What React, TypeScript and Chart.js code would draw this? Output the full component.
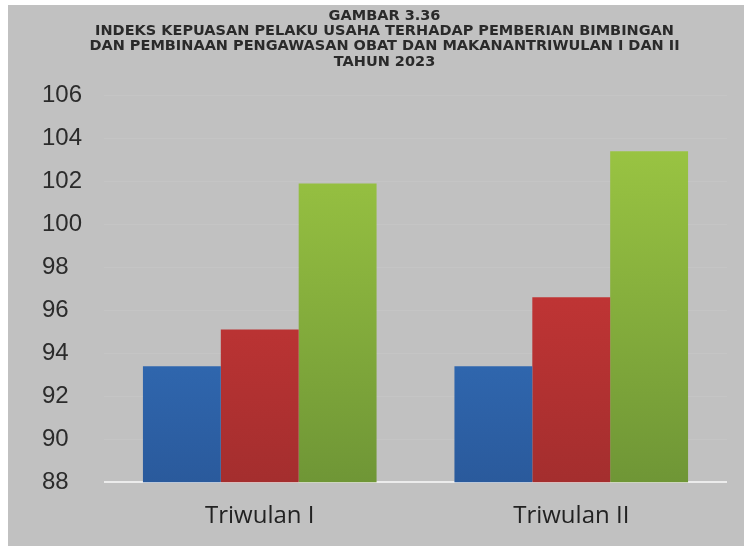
import React, { useEffect, useRef } from "react";
import { Chart, registerables } from "chart.js";

Chart.register(...registerables);

const titleLines = [
  "GAMBAR 3.36",
  "INDEKS KEPUASAN PELAKU USAHA TERHADAP PEMBERIAN BIMBINGAN",
  "DAN PEMBINAAN PENGAWASAN OBAT DAN MAKANANTRIWULAN I DAN II",
  "TAHUN 2023",
];
const categories = ["Triwulan I", "Triwulan II"];
const seriesBlue = [93.4, 93.4];
const seriesRed = [95.1, 96.6];
const seriesGreen = [101.9, 103.4];
const yMin = 88;
const yMax = 106;
const yStep = 2;

function makeGradient(top: string, bottom: string) {
  return (ctx: any) => {
    const chart = ctx.chart;
    const area = chart.chartArea;
    if (!area) return top;
    const g = chart.ctx.createLinearGradient(0, area.top, 0, area.bottom);
    g.addColorStop(0, top);
    g.addColorStop(1, bottom);
    return g;
  };
}

export default function App() {
  const ref = useRef<HTMLCanvasElement | null>(null);
  useEffect(() => {
    if (!ref.current) return;
    const chart = new Chart(ref.current, {
      type: "bar",
      data: {
        labels: categories,
        datasets: [
          { label: "A", data: seriesBlue, backgroundColor: makeGradient("#3b82d6", "#2a5a9c") },
          { label: "B", data: seriesRed, backgroundColor: makeGradient("#dc3b3b", "#a42e2e") },
          { label: "C", data: seriesGreen, backgroundColor: makeGradient("#a0cb44", "#6f9636") },
        ],
      },
      options: {
        animation: false,
        responsive: false,
        maintainAspectRatio: false,
        layout: { padding: { left: 34, right: 17, top: 4, bottom: 3 } },
        datasets: { bar: { categoryPercentage: 0.75, barPercentage: 1.0 } },
        plugins: {
          legend: { display: false },
          tooltip: { enabled: false },
          title: {
            display: true,
            text: titleLines,
            color: "#2a2a2a",
            font: { family: "'DejaVu Sans'", size: 14.5, weight: "bold", lineHeight: 1.04 },
            padding: { top: 0, bottom: 26 },
          },
        },
        scales: {
          x: {
            grid: { display: false },
            border: { display: false },
            ticks: {
              color: "#222",
              font: { family: "'Open Sans'", size: 24 },
              padding: 12,
            },
          },
          y: {
            min: yMin,
            max: yMax,
            border: { display: false },
            grid: {
              drawTicks: false,
              color: (c: any) => (c.tick && c.tick.value === yMin ? "#ececec" : "rgba(255,255,255,0.08)"),
              lineWidth: (c: any) => (c.tick && c.tick.value === yMin ? 2 : 1),
            },
            afterFit: (s: any) => {
              s.width = 62;
            },
            ticks: {
              stepSize: yStep,
              crossAlign: "far",
              color: "#2b2b2b",
              font: { family: "'Liberation Sans'", size: 24 },
            },
          },
        },
      },
    });
    return () => chart.destroy();
  }, []);
  return (
    <div
      style={{
        position: "absolute",
        left: 8,
        top: 5,
        width: 736,
        height: 541,
        background: "#c1c1c1",
      }}
    >
      <canvas ref={ref} width={736} height={541} style={{ display: "block" }} />
    </div>
  );
}
